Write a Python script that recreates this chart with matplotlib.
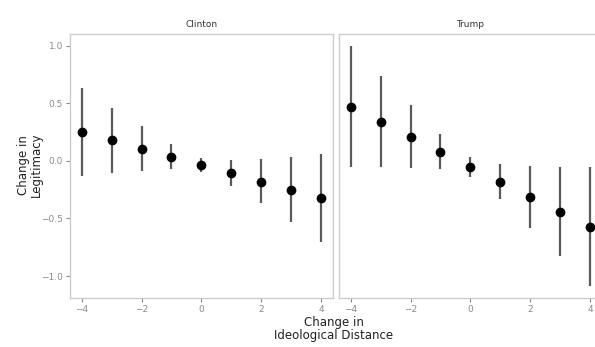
import matplotlib.pyplot as plt
import numpy as np

# change in ideological distance
x = [-4, -3, -2, -1, 0, 1, 2, 3, 4]

clinton_est = [0.25, 0.18, 0.105, 0.035, -0.035, -0.11, -0.18, -0.25, -0.32]
clinton_lo = [-0.13, -0.11, -0.09, -0.075, -0.10, -0.22, -0.37, -0.53, -0.70]
clinton_hi = [0.63, 0.46, 0.30, 0.15, 0.025, 0.005, 0.02, 0.035, 0.06]

trump_est = [0.47, 0.34, 0.21, 0.08, -0.05, -0.18, -0.31, -0.44, -0.57]
trump_lo = [-0.05, -0.05, -0.06, -0.07, -0.14, -0.33, -0.58, -0.83, -1.09]
trump_hi = [1.0, 0.74, 0.48, 0.23, 0.03, -0.03, -0.045, -0.05, -0.05]

panels = ["Clinton", "Trump"]

fig = plt.figure(figsize=(5.95, 3.47), dpi=100)
ax1 = fig.add_axes([70 / 595, 1 - 298 / 347, 263 / 595, 264 / 347])
ax2 = fig.add_axes([339 / 595, 1 - 298 / 347, 263 / 595, 264 / 347])

data = [(clinton_est, clinton_lo, clinton_hi), (trump_est, trump_lo, trump_hi)]
for ax, name, (est, lo, hi) in zip([ax1, ax2], panels, data):
    ax.vlines(x, lo, hi, color="#5a5a5a", lw=1.6)
    ax.plot(x, est, "o", color="black", ms=6)
    ax.set_xlim(-4.39, 4.4)
    ax.set_ylim(-1.19, 1.10)
    ax.set_xticks([-4, -2, 0, 2, 4])
    ax.set_xticklabels(["\u22124", "\u22122", "0", "2", "4"])
    for s in ax.spines.values():
        s.set_color("#cccccc")
        s.set_linewidth(1.0)
    ax.tick_params(colors="#8a8a8a", labelsize=6.5, length=3, width=0.8, pad=2)
    ax.text(0.5, 1.02, name, transform=ax.transAxes, ha="center", va="bottom",
            fontsize=6.5, color="#333333")

ax1.set_yticks([-1.0, -0.5, 0.0, 0.5, 1.0])
ax1.set_yticklabels(["\u22121.0", "\u22120.5", "0.0", "0.5", "1.0"])
ax2.set_yticks([-1.0, -0.5, 0.0, 0.5, 1.0])
ax2.tick_params(axis="y", left=False, labelleft=False)

fig.text(30 / 595, 1 - 165 / 347, "Change in\nLegitimacy", rotation=90,
         ha="center", va="center", fontsize=8.5, color="#222222", linespacing=1.0)
fig.text(334 / 595, 1 - 329 / 347, "Change in\nIdeological Distance",
         ha="center", va="center", fontsize=8.5, color="#222222", linespacing=1.0)

fig.savefig("out.png", dpi=100, facecolor="white")
